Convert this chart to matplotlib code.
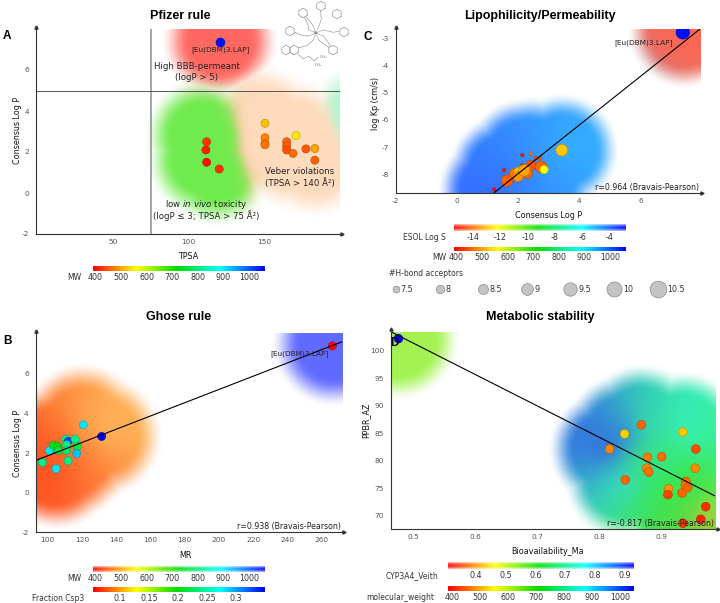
import numpy as np
import matplotlib
matplotlib.use("Agg")
import matplotlib.pyplot as plt
from matplotlib.colors import LinearSegmentedColormap

plt.rcParams["font.family"] = ["DejaVu Sans"]
plt.rcParams["axes.unicode_minus"] = False

# ---------------- data ----------------
# A: Pfizer rule (TPSA vs consensus log P, colour = MW)
pf_tpsa = [112, 111.5, 112, 120.3, 150.5, 150.5, 150.5, 150.5, 164.8, 164.8,
           164.8, 171, 169, 177.5, 183.4, 183.4, 120.8]
pf_logp = [2.5, 2.1, 1.5, 1.17, 3.4, 2.7, 2.42, 2.35, 2.5, 2.3,
           2.1, 2.8, 1.93, 2.15, 2.17, 1.6, 7.38]
pf_mw = [430, 415, 405, 425, 520, 480, 475, 470, 460, 455,
         445, 545, 465, 450, 500, 460, 1050]
# background regions of panel A (centre, colour value, opacity)
pf_bg_x = [120.8, 109.6, 119.5, 110.9, 119.5,
           150.5, 150.5, 150.5, 164.8, 164.8, 171, 169, 177.5, 183.4, 183.4, 214]
pf_bg_y = [7.38, 2.83, 2.59, 1.61, 1.22,
           3.4, 2.7, 2.35, 2.5, 2.1, 2.8, 1.93, 2.15, 2.17, 1.6, 3.5]
pf_bg_v = [400, 690, 690, 690, 690,
           470, 470, 470, 470, 470, 470, 470, 470, 470, 470, 800]
pf_bg_a = [0.62, 0.7, 0.7, 0.7, 0.7,
           0.26, 0.26, 0.26, 0.26, 0.26, 0.26, 0.26, 0.26, 0.26, 0.26, 0.32]

# B: Ghose rule (MR vs consensus log P, colour = Fraction Csp3, shade = MW)
gh_mr = [266.2, 131.5, 120.8, 96.9, 104.9, 101, 103.3, 105.6, 106.2, 110.7,
         111.9, 111, 111, 111.9, 116, 117.3, 116.9]
gh_logp = [7.41, 2.84, 3.43, 1.53, 1.21, 2.13, 2.39, 2.34, 2.13, 2.7,
           2.59, 2.42, 2.13, 1.61, 2.7, 2.34, 1.97]
gh_csp3 = [0.055, 0.35, 0.28, 0.24, 0.28, 0.28, 0.21, 0.20, 0.22, 0.24,
           0.33, 0.24, 0.23, 0.24, 0.24, 0.22, 0.29]
gh_mw = [1050, 540, 535, 410, 410, 412, 420, 425, 428, 450,
         460, 445, 440, 422, 480, 470, 465]
gh_bg_a = [0.62, 0.45, 0.45, 0.92, 0.92, 0.92, 0.9, 0.9, 0.9, 0.85,
           0.85, 0.85, 0.88, 0.9, 0.65, 0.65, 0.72]
gh_r = 0.938

# C: Lipophilicity/Permeability (colour = MW, size = H-bond acceptors, shade = ESOL)
lp_logp = [1.22, 1.55, 2.14, 2.42, 2.14, 2.58, 2.72, 1.64, 1.88, 2.04,
           2.31, 2.42, 2.75, 2.85, 3.43, 2.0, 2.2, 7.39]
lp_kp = [-8.55, -7.84, -7.29, -7.23, -7.66, -7.39, -7.41, -8.23, -7.96, -7.94,
         -7.96, -7.66, -7.72, -7.82, -7.11, -8.08, -7.85, -2.78]
lp_hba = [6.5, 6.5, 6.5, 6.5, 6.5, 6.5, 6.5, 9, 8.5, 9,
          8.5, 8.5, 9, 8, 9, 8.5, 9, 9.6]
lp_mw = [405, 410, 410, 470, 410, 440, 450, 455, 470, 520,
         460, 450, 460, 560, 525, 490, 500, 1050]
lp_esol = [-2.9, -3.3, -4.2, -4.6, -3.9, -4.6, -4.9, -3.3, -3.8, -4.0,
           -4.2, -4.4, -5.1, -5.3, -6.0, -3.8, -4.1, -15.0]
lp_r = 0.964
hba_levels = [7.5, 8, 8.5, 9, 9.5, 10, 10.5]

# D: Metabolic stability (colour = MW, shade = CYP3A4_Veith)
ms_bio = [0.8167, 0.841, 0.868, 0.842, 0.878, 0.877, 0.880, 0.901, 0.935, 0.956,
          0.955, 0.912, 0.911, 0.934, 0.940, 0.939, 0.943, 0.972, 0.964, 0.935, 0.476]
ms_ppbr = [82.1, 84.85, 86.5, 76.5, 80.6, 78.6, 77.9, 80.7, 85.2, 82.1,
           78.6, 74.85, 73.8, 74.1, 76.2, 75.45, 75.1, 71.6, 69.3, 68.6, 102.2]
ms_mw = [470, 520, 450, 450, 465, 470, 455, 455, 515, 435,
         475, 480, 430, 450, 455, 460, 450, 415, 410, 420, 1050]
ms_cyp = [0.926, 0.90, 0.70, 0.78, 0.68, 0.66, 0.65, 0.68, 0.74, 0.72,
          0.64, 0.62, 0.62, 0.62, 0.62, 0.62, 0.62, 0.50, 0.38, 0.62, 0.54]
ms_r = -0.817

# regression lines (slope, intercept)
fit_b = (0.0335, -1.486)
fit_c = (0.893, -9.76)
fit_d = (-57.1, 129.92)

# ---------------- figure ----------------
W, H = 720, 603
PT = 0.72
fig = plt.figure(figsize=(7.2, 6.03), dpi=100)

rainbow = LinearSegmentedColormap.from_list(
    "dw", [(0, "#ff0000"), (0.25, "#ffff00"), (0.49, "#00dd00"),
           (0.74, "#00ffff"), (1, "#0000ff")])


def rect(x0, y0, x1, y1):
    return [x0 / W, 1 - y1 / H, (x1 - x0) / W, (y1 - y0) / H]


def ftext(x, y, s, **kw):
    fig.text(x / W, 1 - y / H, s, zorder=10, **kw)


def colours(vals, lims):
    return rainbow((np.asarray(vals, float) - lims[0]) / (lims[1] - lims[0]))


def style(ax, xlim, ylim, xticks, yticks):
    ax.set_xlim(xlim)
    ax.set_ylim(ylim)
    ax.set_xticks(xticks)
    ax.set_yticks(yticks)
    ax.set_xticklabels([f"{t:g}" for t in xticks])
    ax.set_yticklabels([f"{t:g}" for t in yticks])
    for s in ["top", "right"]:
        ax.spines[s].set_visible(False)
    for s in ["left", "bottom"]:
        ax.spines[s].set_color("#333333")
        ax.spines[s].set_linewidth(0.8)
        ax.spines[s].set_zorder(6)
    ax.tick_params(length=0, labelsize=5.3, labelcolor="#555555")
    ax.tick_params(axis="x", pad=3.5)
    ax.tick_params(axis="y", pad=5)
    ax.plot(1.008, 0, ">", color="#333333", ms=2.3, transform=ax.transAxes, clip_on=False)
    ax.plot(0, 1.012, "^", color="#333333", ms=2.3, transform=ax.transAxes, clip_on=False)


def shade(ax, xs, ys, vals, alphas, lims, radius=60, soft=28, tau=15):
    # soft union of discs round the given centres, coloured by nearest values
    bb = ax.get_window_extent()
    nx, ny = int(bb.width), int(bb.height)
    gx, gy = np.meshgrid(bb.x0 + np.arange(nx) + 0.5, bb.y0 + np.arange(ny) + 0.5)
    p = ax.transData.transform(np.column_stack([xs, ys]))
    d = np.hypot(gx[None] - p[:, 0, None, None], gy[None] - p[:, 1, None, None])
    t = np.clip((radius - d) / soft, 0, 1)
    cover = (t * t * (3 - 2 * t)).max(axis=0)
    w = np.exp(-(d - d.min(axis=0)) / tau)
    rgb = colours(vals, lims)[:, :3]
    col = np.einsum("kyx,kc->yxc", w, rgb) / w.sum(0)[..., None]
    a = np.einsum("kyx,k->yx", w, np.asarray(alphas, float)) / w.sum(0)
    img = np.dstack([col, a * cover])
    xl, yl = ax.get_xlim(), ax.get_ylim()
    ax.imshow(img, origin="lower", extent=(*xl, *yl), aspect="auto",
              zorder=0, interpolation="bilinear")
    ax.set_xlim(xl)
    ax.set_ylim(yl)


def dots(ax, x, y, vals, lims, s, z=3):
    fc = colours(vals, lims)
    ec = fc.copy()
    ec[:, :3] *= 0.72
    ax.scatter(x, y, s=s, c=fc, edgecolors=ec, linewidths=0.4, zorder=z)


def colorbar(box, lims, ticks, name, name_right, faded=False):
    x0, y0, x1, y1 = box
    cax = fig.add_axes(rect(x0, y0, x1, y1))
    vals = np.linspace(lims[0], lims[1], 300)
    img = np.repeat(colours(vals, lims)[None], 12, axis=0)
    if faded:
        img[..., 3] = (0.3 + 0.6 * np.sin(np.linspace(0, np.pi, 12)))[:, None]
    cax.imshow(img, extent=(lims[0], lims[1], 0, 1), aspect="auto",
               interpolation="bilinear")
    cax.set_xlim(lims)
    cax.set_ylim(0, 1)
    cax.set_yticks([])
    cax.set_xticks(ticks)
    cax.set_xticklabels([f"{t:g}" for t in ticks])
    cax.tick_params(length=0, pad=1.5, labelsize=5.8, labelcolor="#333333")
    for s in cax.spines.values():
        s.set_visible(False)
    ftext(name_right, y1 + 2.1, name, ha="right", va="top", fontsize=5.5, color="#333333")


def hba_size(h):
    return ((6.7 + 3.33 * (np.asarray(h, float) - 7.5)) * PT) ** 2


def r_text(ax, r):
    ax.text(0.997, 0.006, f"r={r:.3f} (Bravais-Pearson)", transform=ax.transAxes,
            ha="right", va="bottom", fontsize=5.7, color="#222222", zorder=7)


title_kw = dict(ha="center", va="center", fontsize=9, fontweight="bold",
                family=["Liberation Sans", "DejaVu Sans"])
letter_kw = dict(ha="left", va="center", fontsize=8.5, fontweight="bold",
                 family=["Liberation Sans", "DejaVu Sans"])
lab_kw = dict(ha="center", va="center", fontsize=5.8, color="#111111")
ann_kw = dict(ha="center", va="center", fontsize=6.2, color="#222222")
eu_label = "[Eu(DBM)3.LAP]"

MW_LIM = (392, 1062)

# ---------------- A: Pfizer rule ----------------
axA = fig.add_axes(rect(36, 29, 340, 234))
style(axA, (-0.6, 200), (-2, 8), [50, 100, 150], [-2, 0, 2, 4, 6])
shade(axA, pf_bg_x, pf_bg_y, pf_bg_v, pf_bg_a, MW_LIM, radius=60, soft=30, tau=6)
axA.axvline(75, color="#8c8c8c", lw=1.1, zorder=2)
axA.axhline(5, color="#555555", lw=0.7, zorder=2)
dots(axA, pf_tpsa[:-1], pf_logp[:-1], pf_mw[:-1], MW_LIM, 34)
dots(axA, pf_tpsa[-1:], pf_logp[-1:], pf_mw[-1:], MW_LIM, 42)
axA.text(121.5, 7.0, eu_label, ha="center", va="center", fontsize=5.3, color="#222222")
axA.text(105.6, 5.9, "High BBB-permeant\n(logP > 5)", linespacing=1.35, **ann_kw)
axA.text(173.6, 0.77, "Veber violations\n(TPSA > 140 Å²)", linespacing=1.3, **ann_kw)
axA.text(111.6, -0.54, r"low $\mathit{in\ vivo}$ toxicity", **ann_kw)
axA.text(111.6, -1.12, "(logP ≤ 3; TPSA > 75 Å²)", **ann_kw)
ftext(180, 16, "Pfizer rule", **title_kw)
ftext(3, 36, "A", **letter_kw)
ftext(188, 256, "TPSA", **lab_kw)
ftext(17, 130, "Consensus Log P", rotation=90, **lab_kw)
colorbar((93.3, 265.7, 265, 270.7), MW_LIM, [400, 500, 600, 700, 800, 900, 1000], "MW", 81)

# structure sketch of the complex (decoration)
mol = fig.add_axes(rect(280, 0, 354, 72))
mol.set_xlim(280, 354)
mol.set_ylim(72, 0)
mol.axis("off")
eu = (316, 33)
rings = [(303, 13), (321, 6), (337, 14), (290, 31), (344, 32), (333, 50), (286, 50), (294, 50)]
ang = np.deg2rad(np.arange(30, 391, 60))
for cx, cy in rings:
    mol.plot(cx + 4.8 * np.cos(ang), cy + 4.8 * np.sin(ang), color="#8a8a8a", lw=0.45)
for k in range(8):
    th = np.deg2rad(22.5 + 45 * k)
    ox, oy = eu[0] + 8 * np.cos(th), eu[1] + 8 * np.sin(th)
    mol.plot([eu[0], ox], [eu[1], oy], color="#9a9a9a", lw=0.4)
    cx, cy = min(rings, key=lambda c: (c[0] - ox) ** 2 + (c[1] - oy) ** 2)
    dd = np.hypot(ox - cx, oy - cy)
    vx, vy = cx + 4.8 * (ox - cx) / dd, cy + 4.8 * (oy - cy) / dd
    mol.plot([ox, (ox + vx) / 2 + 1.5, vx], [oy, (oy + vy) / 2 + 1.5, vy], color="#8a8a8a", lw=0.4)
mol.plot([298, 303, 309, 314, 318], [54, 59, 56, 61, 57], color="#8a8a8a", lw=0.4)
mol.text(320, 57, "CH₃", fontsize=3, color="#777777", va="center")
mol.text(315, 65, "CH₃", fontsize=3, color="#777777", va="center")
mol.text(eu[0], eu[1], "Eu", fontsize=2.6, color="#777777", ha="center", va="center")

# ---------------- C: Lipophilicity/Permeability ----------------
axC = fig.add_axes(rect(395.7, 29, 700, 192.7))
style(axC, (-1.95, 7.95), (-8.67, -2.66), [-2, 0, 2, 4, 6], [-8, -7, -6, -5, -4, -3])
ESOL_LIM = (-15.4, -2.8)
shade(axC, lp_logp, lp_kp, lp_esol, [0.8] * (len(lp_kp) - 1) + [0.68],
      ESOL_LIM, radius=58, soft=26, tau=28)
axC.axline((0, fit_c[1]), slope=fit_c[0], color="black", lw=0.8, zorder=4)
dots(axC, lp_logp, lp_kp, lp_mw, MW_LIM, hba_size(lp_hba))
axC.text(6.1, -3.15, eu_label, ha="center", va="center", fontsize=5.3, color="#222222", zorder=5)
r_text(axC, lp_r)
ftext(540, 16, "Lipophilicity/Permeability", **title_kw)
ftext(364, 37, "C", **letter_kw)
ftext(549, 215, "Consensus Log P", **lab_kw)
ftext(375, 103, "log Kp (cm/s)", rotation=90, **lab_kw)
colorbar((454.3, 224, 625.7, 230.7), ESOL_LIM, [-14, -12, -10, -8, -6, -4],
         "ESOL Log S", 446, faded=True)
colorbar((454.3, 246.7, 625.7, 250.7), MW_LIM, [400, 500, 600, 700, 800, 900, 1000],
         "MW", 446)
ftext(389, 273, "#H-bond acceptors", ha="left", va="center", fontsize=5.5, color="#333333")
leg = fig.add_axes(rect(380, 280, 700, 298))
leg.set_xlim(380, 700)
leg.set_ylim(0, 1)
leg.axis("off")
for i, h in enumerate(hba_levels):
    cx = 396 + 43.6 * i
    leg.scatter([cx], [0.5], s=hba_size(h), c="#c4c4c4", edgecolors="#8a8a8a", linewidths=0.5)
    half = (6.7 + 3.33 * (h - 7.5)) / 2
    leg.text(cx + half + 1.5, 0.5, f"{h:g}", ha="left", va="center", fontsize=5.8, color="#333333")

# ---------------- B: Ghose rule ----------------
axB = fig.add_axes(rect(35.7, 333.3, 341.7, 532.3))
style(axB, (93, 271.7), (-2, 8.05), list(range(100, 261, 20)), [-2, 0, 2, 4, 6])
shade(axB, gh_mr, gh_logp, gh_mw, gh_bg_a, MW_LIM, radius=63, soft=30, tau=22)
axB.axline((0, fit_b[1]), slope=fit_b[0], color="black", lw=0.8, zorder=4)
CSP_LIM = (0.054, 0.35)
dots(axB, gh_mr, gh_logp, gh_csp3, CSP_LIM, 34)
axB.text(247.3, 7.04, eu_label, ha="center", va="center", fontsize=5.3, color="#222222", zorder=5)
r_text(axB, gh_r)
ftext(179, 317, "Ghose rule", **title_kw)
ftext(3, 341, "B", **letter_kw)
ftext(185, 555, "MR", **lab_kw)
ftext(17, 443, "Consensus Log P", rotation=90, **lab_kw)
colorbar((93.3, 565.7, 265, 571.7), MW_LIM, [400, 500, 600, 700, 800, 900, 1000],
         "MW", 81, faded=True)
colorbar((93.3, 587.3, 265, 591.7), CSP_LIM, [0.1, 0.15, 0.2, 0.25, 0.3],
         "Fraction Csp3", 84)

# ---------------- D: Metabolic stability ----------------
axD = fig.add_axes(rect(391, 331.7, 715, 528.7))
style(axD, (0.464, 0.987), (67.6, 103.45), [0.5, 0.6, 0.7, 0.8, 0.9], [70, 75, 80, 85, 90, 95, 100])
CYP_LIM = (0.306, 0.926)
shade(axD, ms_bio, ms_ppbr, ms_cyp, [0.8] * (len(ms_bio) - 1) + [0.68],
      CYP_LIM, radius=63, soft=28, tau=18)
axD.axline((0, fit_d[1]), slope=fit_d[0], color="black", lw=0.8, zorder=4)
MWD_LIM = (384, 1043)
dots(axD, ms_bio, ms_ppbr, ms_mw, MWD_LIM, 40)
r_text(axD, ms_r)
ftext(540, 317, "Metabolic stability", **title_kw)
ftext(390, 343, "D", **letter_kw)
ftext(548, 552, "Bioavailability_Ma", **lab_kw)
ftext(366, 420, "PPBR_AZ", rotation=90, **lab_kw)
colorbar((447.7, 562.3, 632.7, 569), CYP_LIM, [0.4, 0.5, 0.6, 0.7, 0.8, 0.9],
         "CYP3A4_Veith", 438, faded=True)
colorbar((447.7, 586, 632.7, 590.7), MWD_LIM, [400, 500, 600, 700, 800, 900, 1000],
         "molecular_weight", 434)

fig.savefig("out.png", dpi=100)
